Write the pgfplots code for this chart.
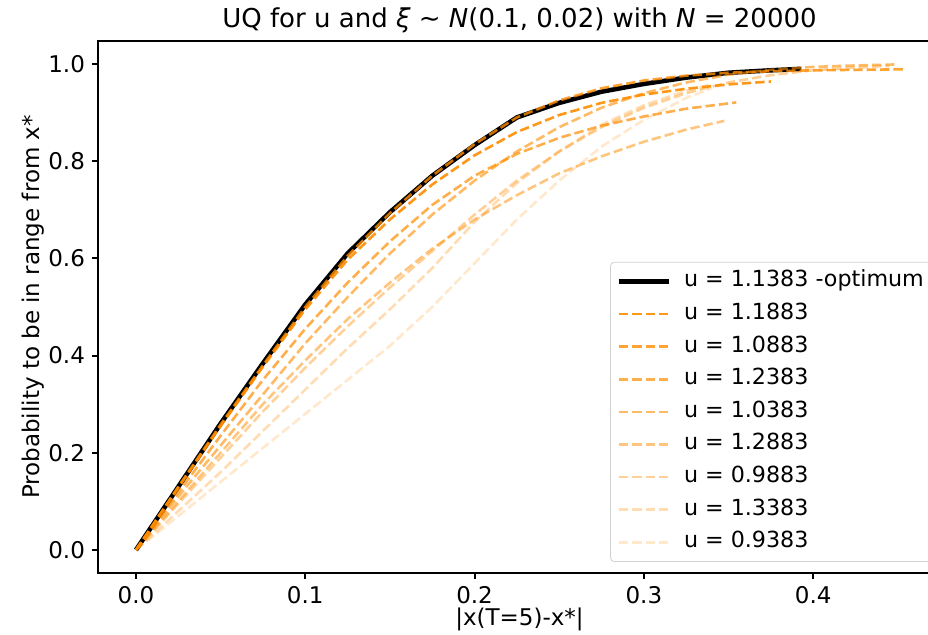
\documentclass[border=0pt]{standalone}
\usepackage{pgfplots}
\pgfplotsset{compat=1.18}
\usepackage{fontspec}
\setmainfont{DejaVu Sans}
\definecolor{dorange}{HTML}{FF8C00}

\begin{document}
\begin{tikzpicture}
\begin{axis}[
    at={(0,0)}, anchor=south west,
    scale only axis,
    width=421.5pt, height=266pt,
    xmin=-0.0224, xmax=0.4755,
    ymin=-0.0473, ymax=1.0473,
    xtick={0,0.1,0.2,0.3,0.4},
    ytick={0,0.2,0.4,0.6,0.8,1.0},
    xtick pos=bottom, ytick pos=left,
    tick align=outside,
    major tick length=3pt,
    tick style={line width=1pt, black},
    axis line style={line width=1pt},
    /pgf/number format/.cd, fixed, precision=1, zerofill, assume math mode=true,
    /pgfplots/.cd,
    ticklabel style={font=\fontsize{11.5}{13}\selectfont},
    title={UQ for u and \textit{ξ} ∼ \textit{N}(0.1, 0.02) with \textit{N} = 20000},
    every axis title/.style={at={(0.5,1)}, anchor=base, yshift=7pt, font=\fontsize{13}{15}\selectfont},
    xlabel={|x(T=5)-x*|},
    ylabel={Probability to be in range from x*},
    xlabel style={at={(axis description cs:0.5,-0.0865)}, anchor=center, font=\fontsize{11.5}{13}\selectfont},
    ylabel style={at={(axis description cs:-0.0771,0.5)}, rotate=0, anchor=center, font=\fontsize{11.5}{13}\selectfont},
    legend style={at={(0.6074,0.0207)}, anchor=south west,
        draw=black!18, rounded corners=2pt, fill=white,
        font=\fontsize{11.1}{13}\selectfont,
        inner xsep=3pt, inner ysep=1.5pt, row sep=0pt,
        nodes={text height=7.6pt, text depth=2.2pt, inner ysep=3.25pt},
        /tikz/every odd column/.append style={column sep=4.5pt}},
    legend cell align=left,
    legend image code/.code={\draw[#1] (0pt,0pt) -- (25pt,0pt);},
]
% optimum
\addplot[black, line width=2.3pt] coordinates {
(0,0) (0.025,0.13) (0.05,0.26) (0.075,0.384) (0.1,0.505) (0.125,0.61) (0.15,0.695)
(0.175,0.77) (0.2,0.833) (0.225,0.89) (0.25,0.92) (0.275,0.943) (0.3,0.959)
(0.325,0.972) (0.35,0.982) (0.375,0.987) (0.393,0.99)};
% u = 1.1883
\addplot[dorange, draw opacity=0.9, line width=1.3pt, dash pattern=on 4.7pt off 2pt] coordinates {
(0,0) (0.025,0.128) (0.05,0.255) (0.075,0.377) (0.1,0.495) (0.125,0.597) (0.15,0.68)
(0.175,0.752) (0.2,0.812) (0.225,0.86) (0.25,0.895) (0.275,0.92) (0.3,0.937)
(0.325,0.949) (0.35,0.958) (0.375,0.964)};
% u = 1.0883
\addplot[dorange, draw opacity=0.8, line width=1.3pt, dash pattern=on 4.7pt off 2pt] coordinates {
(0,0) (0.025,0.13) (0.05,0.258) (0.075,0.38) (0.1,0.5) (0.125,0.605) (0.15,0.693)
(0.175,0.77) (0.2,0.835) (0.225,0.89) (0.25,0.925) (0.275,0.95) (0.3,0.966)
(0.325,0.976) (0.35,0.982) (0.375,0.985) (0.4,0.987) (0.425,0.988) (0.4537,0.989)};
% u = 1.2383
\addplot[dorange, draw opacity=0.7, line width=1.3pt, dash pattern=on 4.7pt off 2pt] coordinates {
(0,0) (0.025,0.118) (0.05,0.235) (0.075,0.35) (0.1,0.455) (0.125,0.55) (0.15,0.635)
(0.175,0.71) (0.2,0.77) (0.225,0.815) (0.25,0.848) (0.275,0.873) (0.3,0.892)
(0.325,0.908) (0.3546,0.921)};
% u = 1.0383
\addplot[dorange, draw opacity=0.6, line width=1.3pt, dash pattern=on 4.7pt off 2pt] coordinates {
(0,0) (0.025,0.11) (0.05,0.215) (0.075,0.32) (0.1,0.425) (0.125,0.52) (0.15,0.61)
(0.175,0.69) (0.2,0.76) (0.225,0.82) (0.25,0.87) (0.275,0.91) (0.3,0.94)
(0.325,0.962) (0.35,0.978) (0.375,0.988) (0.4,0.994) (0.425,0.997) (0.448,0.999)};
% u = 1.2883
\addplot[dorange, draw opacity=0.5, line width=1.3pt, dash pattern=on 4.7pt off 2pt] coordinates {
(0,0) (0.025,0.1) (0.05,0.2) (0.075,0.3) (0.1,0.39) (0.125,0.475) (0.15,0.55)
(0.175,0.62) (0.2,0.68) (0.225,0.73) (0.25,0.775) (0.275,0.81) (0.3,0.84)
(0.325,0.865) (0.3475,0.883)};
% u = 0.9883
\addplot[dorange, draw opacity=0.4, line width=1.3pt, dash pattern=on 4.7pt off 2pt] coordinates {
(0,0) (0.025,0.095) (0.05,0.19) (0.075,0.285) (0.1,0.375) (0.125,0.46) (0.15,0.54)
(0.175,0.615) (0.2,0.69) (0.225,0.76) (0.25,0.82) (0.275,0.87) (0.3,0.91)
(0.325,0.94) (0.35,0.962) (0.375,0.977) (0.4,0.987) (0.425,0.993) (0.445,0.996)};
% u = 1.3383
\addplot[dorange, draw opacity=0.3, line width=1.3pt, dash pattern=on 4.7pt off 2pt] coordinates {
(0,0) (0.025,0.08) (0.05,0.16) (0.075,0.245) (0.1,0.33) (0.125,0.415) (0.15,0.495)
(0.175,0.58) (0.2,0.675) (0.225,0.755) (0.25,0.82) (0.275,0.875) (0.3,0.915)
(0.325,0.945) (0.34,0.958)};
% u = 0.9383
\addplot[dorange, draw opacity=0.2, line width=1.3pt, dash pattern=on 4.7pt off 2pt] coordinates {
(0,0) (0.025,0.07) (0.05,0.14) (0.075,0.21) (0.1,0.28) (0.125,0.35) (0.15,0.42)
(0.175,0.5) (0.2,0.59) (0.225,0.68) (0.25,0.76) (0.275,0.83) (0.3,0.885)
(0.325,0.93) (0.34,0.95)};
\legend{u = 1.1383 -optimum, u = 1.1883, u = 1.0883, u = 1.2383, u = 1.0383,
        u = 1.2883, u = 0.9883, u = 1.3383, u = 0.9383}
\end{axis}
\pgfresetboundingbox
\path[use as bounding box] (-49pt,-30.5pt) rectangle (415pt,286.5pt);
\end{tikzpicture}
\end{document}
